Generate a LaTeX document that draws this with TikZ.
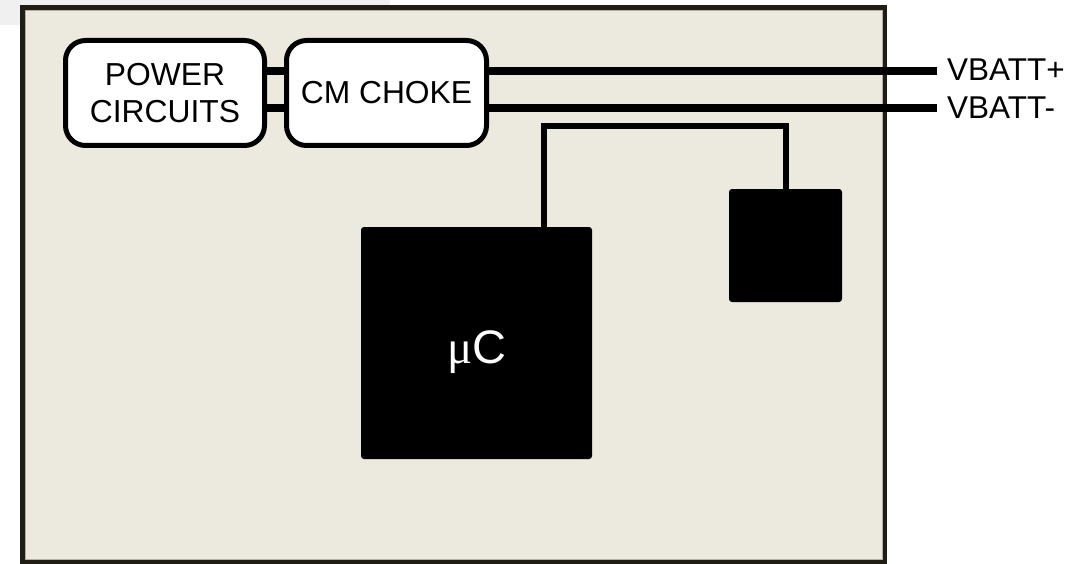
\documentclass[tikz,border=0pt]{standalone}
\usepackage{fontspec}
\setmainfont{Liberation Sans}
\newfontfamily\greekserif{Liberation Serif}
\definecolor{boardfill}{HTML}{ECE9DF}
\definecolor{boardline}{HTML}{201D14}
\definecolor{boardinner}{HTML}{B3B0A3}
\definecolor{artifact}{HTML}{F0F0F0}
\begin{document}
\begin{tikzpicture}[x=1pt,y=-1pt,
  board/.style={draw=boardline,line width=5pt,fill=boardfill},
  unit/.style={draw=black,line width=5pt,fill=white,rounded corners=20pt,
    minimum width=199pt,minimum height=105pt,inner sep=0pt,align=center,
    font=\fontsize{31.8}{37}\selectfont},
  chip/.style={fill=black,rounded corners=3pt,inner sep=0pt},
  bus/.style={draw=black,line width=7.5pt},
  wire/.style={draw=black,line width=6pt},
  pin/.style={anchor=west,inner sep=0pt,font=\fontsize{31.5}{36}\selectfont}]
\useasboundingbox (0,0) rectangle (1091,564);
\fill[artifact] (0,0) rectangle (390,5);
\fill[artifact] (0,0) rectangle (20,25);
\path[board] (22.5,7.5) rectangle (884.5,562);
\draw[boardinner,line width=1pt] (25.5,10.5) rectangle (882,559.5);
\node[unit] (pc) at (165,93) {POWER\\CIRCUITS};
\node[unit,minimum width=200pt] (cm) at (386.5,93) {CM CHOKE};
\draw[bus] ([yshift=22pt]pc.east) -- ([yshift=22pt]cm.west);
\draw[bus] ([yshift=-15pt]pc.east) -- ([yshift=-15pt]cm.west);
\coordinate (vp) at (937,71);
\coordinate (vm) at (937,108);
\draw[bus,line width=8pt] ([yshift=22pt]cm.east) -- (vp);
\draw[bus,line width=8pt] ([yshift=-15pt]cm.east) -- (vm);
\node[pin] (lp) at (947,70) {VBATT+};
\node[pin] (lm) at (947,108) {VBATT-};
\node[chip,minimum width=231pt,minimum height=232pt] (uc) at (476.5,343) {};
\node[chip,minimum width=113pt,minimum height=113pt] (sb) at (785.5,245.5) {};
\node[anchor=base,inner sep=0pt,text=white,font=\fontsize{47}{50}\selectfont] (ucl) at (477,363) {{\greekserif μ}C};
\draw[wire] ([xshift=67.5pt]uc.north) -- ++(0,-101) -| (sb.north);
\end{tikzpicture}
\end{document}
